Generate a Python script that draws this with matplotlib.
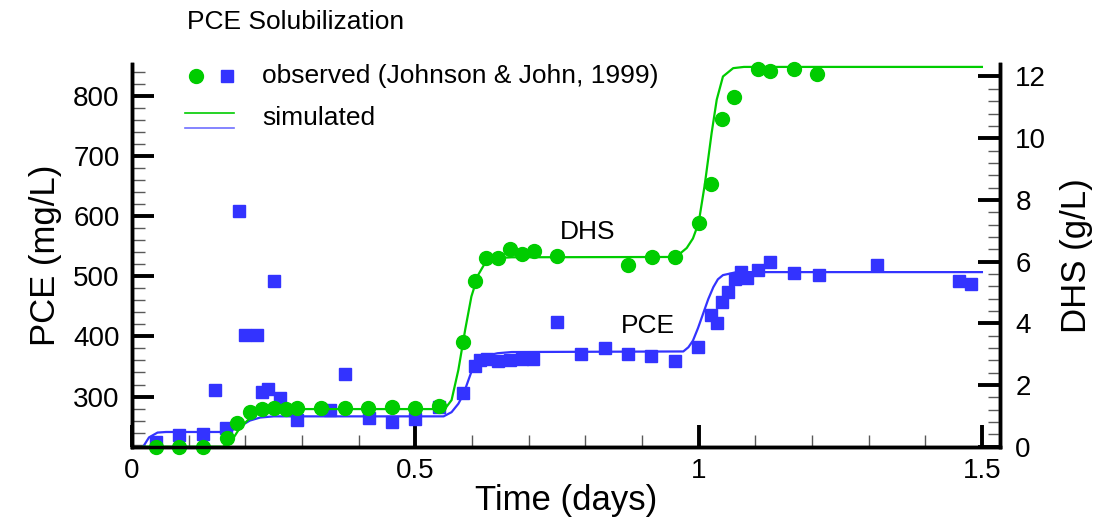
"""
PCE solubilization: observed vs simulated PCE and DHS concentrations.
"""
import matplotlib

matplotlib.use("Agg")
import matplotlib.pyplot as plt
from matplotlib.lines import Line2D
from matplotlib.ticker import MultipleLocator

plt.rcParams["font.family"] = ["Liberation Sans", "DejaVu Sans"]

GREEN = "#00CC00"
BLUE = "#3333FF"

# observed PCE (mg/L)
t_pce_obs = [0.042, 0.083, 0.125, 0.147, 0.166, 0.188, 0.200, 0.220, 0.230, 0.240,
             0.250, 0.262, 0.292, 0.349, 0.376, 0.418, 0.459, 0.500, 0.542, 0.584,
             0.605, 0.614, 0.626, 0.646, 0.667, 0.688, 0.708, 0.750, 0.792, 0.835,
             0.875, 0.916, 0.958, 0.999, 1.022, 1.032, 1.042, 1.052, 1.064, 1.074,
             1.085, 1.105, 1.126, 1.168, 1.213, 1.314, 1.460, 1.480]
pce_obs = [224, 236, 238, 311, 247, 608, 402, 402, 308, 313,
           493, 297, 261, 278, 338, 265, 258, 263, 282, 306,
           350, 360, 363, 359, 361, 363, 363, 424, 370, 380,
           370, 368, 359, 383, 435, 422, 457, 474, 495, 508,
           497, 510, 523, 506, 503, 518, 492, 488]

# observed DHS (g/L)
t_dhs_obs = [0.042, 0.083, 0.125, 0.167, 0.186, 0.208, 0.230, 0.251, 0.271, 0.292,
             0.334, 0.376, 0.417, 0.459, 0.500, 0.542, 0.584, 0.605, 0.625, 0.646,
             0.667, 0.689, 0.709, 0.750, 0.876, 0.917, 0.959, 1.000, 1.022, 1.042,
             1.063, 1.105, 1.126, 1.168, 1.209]
dhs_obs = [0.0, 0.0, 0.0, 0.27, 0.76, 1.14, 1.21, 1.25, 1.22, 1.27,
           1.26, 1.26, 1.26, 1.29, 1.27, 1.32, 3.40, 5.37, 6.13, 6.11,
           6.40, 6.24, 6.35, 6.19, 5.89, 6.15, 6.15, 7.26, 8.51, 10.62,
           11.33, 12.24, 12.19, 12.24, 12.08]

# simulated PCE (mg/L)
t_pce_sim = [0.020, 0.030, 0.045, 0.060, 0.170, 0.190, 0.208, 0.226, 0.250, 0.550,
             0.564, 0.576, 0.585, 0.594, 0.602, 0.613, 0.626, 0.645, 0.670, 0.973,
             0.982, 0.990, 0.999, 1.008, 1.017, 1.026, 1.034, 1.043, 1.067, 1.500]
pce_sim = [217, 232, 240, 241, 241, 250, 260, 265, 267, 267,
           274, 288, 304, 328, 349, 362, 368, 372, 374, 375,
           382, 393, 414, 438, 462, 482, 495, 502, 507, 507]

# simulated DHS (g/L)
t_dhs_sim = [0.020, 0.160, 0.173, 0.190, 0.205, 0.220, 0.244, 0.280, 0.552, 0.564,
             0.576, 0.588, 0.599, 0.611, 0.623, 0.641, 0.670, 0.960, 0.979, 0.990,
             1.000, 1.011, 1.023, 1.032, 1.043, 1.061, 1.080, 1.500]
dhs_sim = [0.0, 0.0, 0.11, 0.60, 0.87, 1.08, 1.19, 1.22, 1.22, 1.51,
           2.49, 3.79, 4.87, 5.57, 5.95, 6.11, 6.14, 6.15, 6.44, 6.75,
           7.25, 8.51, 10.17, 11.25, 12.00, 12.27, 12.31, 12.31]


def style_axis(ax):
    ax.tick_params(which="major", direction="in", length=16, width=2.8,
                   labelsize=20, color="black")
    ax.tick_params(which="minor", direction="in", length=9, width=1.0,
                   color="0.35")
    for side in ("left", "right", "bottom"):
        ax.spines[side].set_linewidth(2.5)
    ax.spines["top"].set_visible(False)


fig = plt.figure(figsize=(11.01, 5.24), dpi=100)
ax = fig.add_axes([0.1199, 0.1475, 0.7884, 0.7295])
ax2 = ax.twinx()

ax.plot(t_pce_sim, pce_sim, color=BLUE, lw=1.6)
ax.plot(t_pce_obs, pce_obs, ls="none", marker="s", ms=9, color=BLUE,
        mec=BLUE, clip_on=False)
ax2.plot(t_dhs_sim, dhs_sim, color=GREEN, lw=1.6)
ax2.plot(t_dhs_obs, dhs_obs, ls="none", marker="o", ms=10, color=GREEN,
         mec=GREEN, clip_on=False)

ax.set_xlim(0, 1.532)
ax.set_ylim(216.5, 852.5)
ax2.set_ylim(0, 12.39)

ax.xaxis.set_major_locator(MultipleLocator(0.5))
ax.xaxis.set_minor_locator(MultipleLocator(0.1))
ax.yaxis.set_major_locator(MultipleLocator(100))
ax.yaxis.set_minor_locator(MultipleLocator(20))
ax2.yaxis.set_major_locator(MultipleLocator(2))
ax2.yaxis.set_minor_locator(MultipleLocator(0.4))
ax.set_xticks([0, 0.5, 1, 1.5], ["0", "0.5", "1", "1.5"])

style_axis(ax)
style_axis(ax2)
ax.tick_params(axis="x", pad=8)
ax.tick_params(axis="y", pad=9)
ax2.tick_params(axis="y", pad=11)

ax.set_xlabel("Time (days)", fontsize=25, labelpad=0)
ax.set_ylabel("PCE (mg/L)", fontsize=25, labelpad=8)
ax2.set_ylabel("DHS (g/L)", fontsize=25, labelpad=10)

ax2.text(0.805, 6.96, "DHS", fontsize=19, ha="center", va="center")
ax.text(0.911, 418, "PCE", fontsize=19, ha="center", va="center")

# legend, drawn by hand in figure pixels
W, H = 1101, 524


def fx(px):
    return px / W


def fy(py):
    return 1 - py / H


fig.text(fx(187), fy(22), "PCE Solubilization", fontsize=19, va="center")
fig.add_artist(Line2D([fx(196)], [fy(76)], marker="o", ms=10, color=GREEN,
                      ls="none", transform=fig.transFigure))
fig.add_artist(Line2D([fx(227)], [fy(76)], marker="s", ms=9, color=BLUE,
                      ls="none", transform=fig.transFigure))
fig.text(fx(262), fy(76), "observed (Johnson & John, 1999)", fontsize=19,
         va="center")
fig.add_artist(Line2D([fx(185), fx(234)], [fy(113), fy(113)], color=GREEN,
                      lw=1.2, transform=fig.transFigure))
fig.add_artist(Line2D([fx(185), fx(234)], [fy(128), fy(128)], color=BLUE,
                      lw=1.2, alpha=0.7, transform=fig.transFigure))
fig.text(fx(262), fy(118), "simulated", fontsize=19, va="center")

fig.savefig("out.png", dpi=100)
